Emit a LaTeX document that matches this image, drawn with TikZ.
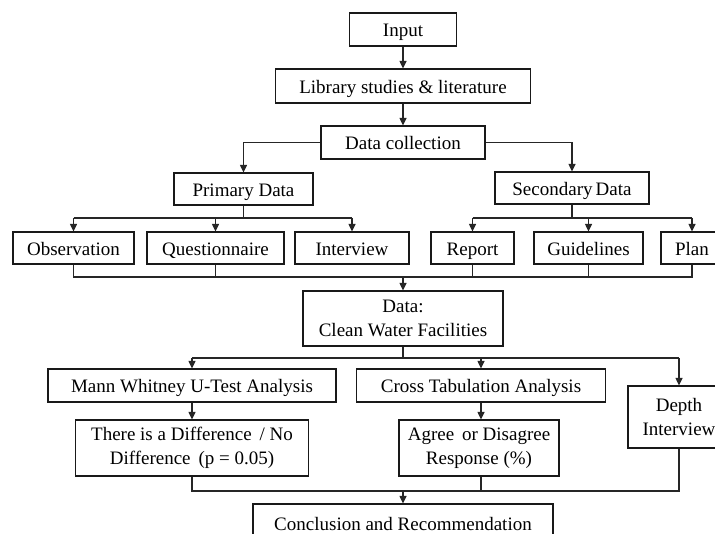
\documentclass[tikz,border=0pt]{standalone}
\usepackage{fontspec}
\setmainfont{Liberation Serif}
\usetikzlibrary{arrows.meta,calc}
\tikzset{
  box/.style={draw=black!90, line width=1.2pt, inner sep=0pt, align=center,
    font=\fontsize{19}{24}\selectfont},
  oneline/.style={text height=15pt, text depth=0pt},
  link/.style={draw=black!85, line width=1.2pt},
  arr/.style={link, -{Triangle[length=7.5pt,width=7pt]}}
}
\begin{document}
\begin{tikzpicture}[x=1pt,y=-1pt]
\useasboundingbox (0,0) rectangle (715,534);
\fill[white] (0,0) rectangle (715,534);
\clip (0,0) rectangle (715,534);
% top chain
\node[box, oneline, minimum width=107pt, minimum height=33pt] (inp) at (403,29.5) {Input};
\node[box, oneline, minimum width=255pt, minimum height=34pt] (lib) at (403,86) {Library studies \& literature};
\node[box, oneline, minimum width=164pt, minimum height=33pt] (dc) at (403,142.5) {Data collection};
\node[box, oneline, minimum width=139pt, minimum height=32pt] (pri) at (243.5,189) {Primary Data};
\node[box, oneline, minimum width=154pt, minimum height=32pt] (sec) at (572,188) {Secondary\,Data};
% row of sources
\node[box, oneline, minimum width=121pt, minimum height=32pt] (obs) at (73.5,248) {Observation};
\node[box, oneline, minimum width=137pt, minimum height=32pt] (que) at (215.5,248) {Questionnaire};
\node[box, oneline, minimum width=114pt, minimum height=32pt] (int) at (352,248) {Interview};
\node[box, oneline, minimum width=83pt, minimum height=32pt] (rep) at (472.5,248) {Report};
\node[box, oneline, minimum width=109pt, minimum height=32pt] (gui) at (588.5,248) {Guidelines};
\node[box, oneline, minimum width=62pt, minimum height=32pt] (pla) at (692,248) {Plan};
% data
\node[box, minimum width=200pt, minimum height=55pt] (dat) at (403,318.5) {Data:\\Clean Water Facilities};
% analyses
\node[box, oneline, minimum width=288pt, minimum height=33pt] (man) at (192,385.5) {Mann Whitney U-Test Analysis};
\node[box, oneline, minimum width=249pt, minimum height=33pt] (cro) at (481,385.5) {Cross Tabulation Analysis};
\node[box, minimum width=102pt, minimum height=62pt] (dep) at (679,417) {Depth\\Interview};
\node[box, minimum width=233pt, minimum height=56pt] (dif) at (192,448) {There is a Difference\, / No\\Difference\, (p = 0.05)};
\node[box, minimum width=160pt, minimum height=56pt] (agr) at (479,448) {Agree\, or Disagree\\Response (\%)};
\node[box, oneline, minimum width=300pt, minimum height=37pt] (con) at (403,522.5) {Conclusion and Recommendation};
% junction coordinates
\coordinate (pj) at (243.5,218);
\coordinate (sj) at (572,218);
\coordinate (bj) at (403,277);
\coordinate (dj) at (403,358);
\coordinate (cj) at (403,491);
% connectors top
\draw[arr] (inp.south) -- (lib.north);
\draw[arr] (lib.south) -- (dc.north);
\draw[arr] (dc.west) -| (pri.north);
\draw[arr] (dc.east) -| (sec.north);
% primary fan
\draw[link] (pri.south) -- (pj);
\draw[link] (obs.north |- pj) -- (int.north |- pj);
\draw[arr] (obs.north |- pj) -- (obs.north);
\draw[arr] (que.north |- pj) -- (que.north);
\draw[arr] (int.north |- pj) -- (int.north);
% secondary fan
\draw[link] (sec.south) -- (sj);
\draw[link] (rep.north |- sj) -- (pla.north |- sj);
\draw[arr] (rep.north |- sj) -- (rep.north);
\draw[arr] (gui.north |- sj) -- (gui.north);
\draw[arr] (pla.north |- sj) -- (pla.north);
% gather into data
\draw[link] (obs.south) -- (obs.south |- bj) -- (pla.south |- bj) -- (pla.south);
\draw[link] (que.south) -- (que.south |- bj);
\draw[link] (rep.south) -- (rep.south |- bj);
\draw[link] (gui.south) -- (gui.south |- bj);
\draw[arr] (bj) -- (dat.north);
% data to analyses
\draw[link] (dat.south) -- (dj);
\draw[link] (man.north |- dj) -- (dep.north |- dj);
\draw[arr] (man.north |- dj) -- (man.north);
\draw[arr] (cro.north |- dj) -- (cro.north);
\draw[arr] (dep.north |- dj) -- (dep.north);
\draw[arr] (man.south) -- (dif.north);
\draw[arr] (cro.south) -- (cro.south |- agr.north);
% gather into conclusion
\draw[link] (dif.south) -- (dif.south |- cj) -- (dep.south |- cj) -- (dep.south);
\draw[link] (cro.south |- agr.south) -- (cro.south |- cj);
\draw[arr] (cj) -- (con.north);
\end{tikzpicture}
\end{document}
